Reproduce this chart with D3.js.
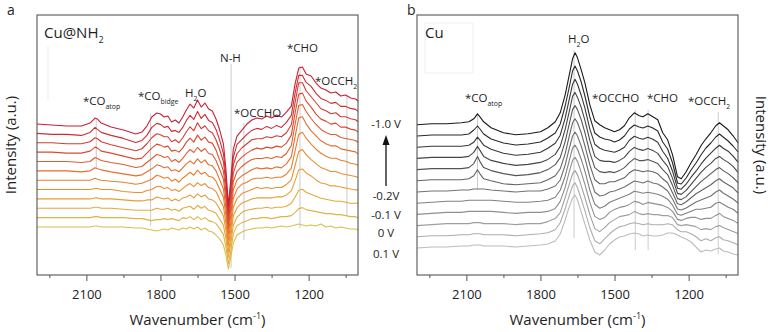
<!DOCTYPE html>
<html>
<head>
<meta charset="utf-8">
<script src="https://cdn.jsdelivr.net/npm/d3@7"></script>
<style>
  body { margin: 0; background: #fff; }
  svg { display: block; font-family: "Open Sans", sans-serif; }
</style>
</head>
<body>
<div id="chart"></div>
<script>
// wavenumber grids (cm-1)
const wnA = [2300, 2240, 2180, 2120, 2085, 2065, 2055, 2040, 2000, 1950, 1900, 1875, 1855, 1835, 1815, 1800,
  1785, 1770, 1755, 1740, 1725, 1710, 1695, 1680, 1665, 1650, 1635, 1620, 1605, 1590, 1575, 1560, 1545, 1535,
  1525, 1515, 1505, 1490, 1470, 1450, 1430, 1410, 1390, 1370, 1350, 1330, 1310, 1290, 1270, 1255, 1240, 1225,
  1210, 1190, 1170, 1150, 1130, 1110, 1090, 1070, 1050, 1030, 1010, 1000];

const wnB = [2300, 2240, 2180, 2120, 2090, 2070, 2055, 2045, 2030, 2000, 1950, 1900, 1850, 1800, 1770, 1740,
  1720, 1700, 1685, 1670, 1660, 1650, 1635, 1620, 1600, 1580, 1560, 1540, 1520, 1500, 1480, 1460, 1440, 1420,
  1400, 1385, 1365, 1345, 1325, 1305, 1285, 1265, 1245, 1230, 1210, 1190, 1170, 1150, 1130, 1110, 1090, 1075,
  1060, 1040, 1020, 1000];

// Cu@NH2 spectra, first = 0.1 V (bottom), last = -1.0 V (top)
const cuNH2 = [
  [0,0,0,0, 0,1,1,0,0, 0,-1,-1, -2,-3,-4,-3,-2,-3,-1,-2,-3,-1,-2,0,-2,0,-3,-1,-4,-5,-8, -12,-18,-28,-42,-30,-16,-8, -5,-3,-2,-1,-1,0,-1,0,1,0, 1,2,3,2,1, 2,1,3,0,1,-1,0,-1,-2,-2,-3],
  [0,0,0,0, 0,1,1,0,0, 0,-1,-1, -2,-3,-2,-2,-1,-2,-1,-2,-3,0,-1,1,-2,1,-2,0,-3,-4,-6, -11,-17,-29,-46,-33,-16,-8, -5,-3,-1,-1,0,0,-1,0,1,1, 2,5,9,10,8, 7,6,5,4,4,3,3,2,1,1,0],
  [0,0,0,0, 0,1,1,0,0, -1,-2,-2, -2,-2,0,-1,-1,0,-2,-1,-3,0,1,2,-1,3,0,2,-2,-3,-5, -11,-17,-30,-49,-35,-17,-9, -4,-2,-1,0,0,1,0,1,1,2, 5,11,18,19,16, 14,12,10,9,8,7,7,6,5,5,5],
  [0,0,0,0, 0,1,1,0,0, -1,-2,-2, -1,-1,2,1,0,1,-2,0,-2,1,2,4,1,5,2,4,0,-1,-4, -10,-17,-31,-53,-38,-17,-9, -4,-2,0,1,1,1,1,2,2,4, 8,18,29,30,26, 23,19,16,15,13,13,12,11,10,9,9],
  [0,0,0,0, 0,1,1,0,0, -2,-3,-3, -1,0,3,3,1,2,-1,0,-2,1,4,6,3,7,4,6,2,1,-2, -10,-17,-33,-56,-40,-18,-9, -4,-2,0,2,1,2,1,2,2,5, 10,24,38,40,35, 30,26,22,20,18,18,16,15,14,13,12],
  [0,0,0,0, 0,2,1,0,-1, -2,-4,-3, -1,1,5,4,2,3,-1,1,-2,2,5,8,5,10,6,8,4,3,-1, -9,-17,-35,-60,-42,-18,-9, -4,-2,1,2,2,3,2,3,3,6, 12,29,46,48,42, 36,31,27,24,22,22,20,19,17,16,15],
  [0,0,0,-1, 0,3,2,1,-1, -3,-5,-4, -1,2,6,5,3,4,0,1,-1,3,7,10,7,12,8,11,6,5,0, -9,-18,-37,-63,-44,-19,-9, -5,-2,1,3,2,3,2,4,3,7, 14,34,53,54,47, 40,35,30,27,25,25,22,21,20,19,17],
  [0,0,0,-1, 0,4,3,1,-1, -3,-6,-5, -1,3,7,6,4,5,0,2,-1,3,8,12,9,14,10,13,8,7,1, -8,-18,-38,-67,-46,-20,-10, -5,-1,2,3,3,4,3,5,4,8, 16,37,56,57,50, 43,37,32,29,27,27,24,23,22,21,19],
  [0,0,-1,-1, 1,5,4,1,-1, -4,-7,-6, -1,4,8,7,5,6,1,2,0,4,10,14,10,17,12,15,10,9,2, -8,-19,-40,-71,-48,-21,-10, -5,-1,2,4,3,5,4,6,5,9, 17,39,58,59,51, 45,38,33,31,28,29,25,25,23,22,20],
  [0,0,-1,-1, 1,5,4,1,-2, -5,-8,-6, -1,5,9,8,6,6,1,3,0,5,11,16,12,20,14,17,12,10,3, -7,-19,-41,-74,-50,-22,-11, -5,-1,3,4,4,6,5,7,6,10, 18,40,60,60,52, 46,40,34,32,29,30,26,26,24,23,21],
  [0,-1,-1,-2, 1,6,4,1,-2, -5,-9,-7, -2,6,10,9,6,7,2,3,1,6,13,18,14,22,15,19,13,11,4, -7,-20,-43,-78,-52,-24,-11, -6,-1,3,5,4,7,5,8,6,11, 18,40,58,58,51, 47,40,35,33,30,31,27,27,25,24,22],
  [0,-1,-2,-2, 1,6,5,1,-3, -6,-10,-8, -2,7,11,10,7,8,2,4,1,7,14,20,16,24,17,21,15,13,5, -6,-20,-45,-81,-55,-25,-12, -6,0,4,6,5,8,6,9,7,12, 18,40,56,57,50, 48,41,36,34,31,32,28,29,26,25,23]
];

// Cu spectra, first = 0.1 V (bottom), last = -1.0 V (top)
const cu = [
  [0,1,1,2, 2,3,3,3,2,2, 2,1,2,3,4,7,14, 28,40,50,53,48,36,24,8,-4, -7,-2,4,8,11,12,14,15,14,12,13,12,12,13,15, 15,13,11,9,6,1,-4,-2,-3, -1,0,-3,-4,-6,-7],
  [0,1,1,2, 2,3,3,3,2,2, 2,1,2,3,4,7,14, 28,40,51,54,49,38,26,9,-4, -7,-2,3,7,10,11,13,14,13,12,13,12,12,12,13, 12,7,5,5,3,0,-4,-2,-4, -1,0,-3,-4,-6,-8],
  [0,1,2,2, 2,3,3,3,2,2, 2,1,2,2,4,7,13, 28,40,52,55,51,40,28,11,-3, -6,-2,3,6,9,10,11,14,12,11,12,11,11,10,10, 8,1,0,1,0,-1,-4,-3,-4, -1,0,-2,-4,-6,-8],
  [0,1,2,2, 3,3,3,3,3,3, 2,1,2,2,3,6,13, 27,41,54,57,53,42,30,12,-2, -5,-3,2,5,7,8,10,13,12,10,12,11,10,9,7, 3,-5,-6,-4,-3,-3,-5,-4,-4, -1,1,-2,-4,-6,-9],
  [0,1,2,2, 3,3,3,3,3,3, 2,1,1,2,3,6,13, 27,41,55,58,54,44,32,13,-1, -5,-3,1,3,5,7,9,12,11,10,11,10,9,7,4, -2,-11,-12,-10,-8,-6,-6,-5,-4, 0,1,-1,-4,-6,-10],
  [0,1,1,2, 2,3,3,3,3,2, 1,0,1,1,3,6,12, 27,42,56,60,56,46,34,15,0, -4,-3,0,1,3,5,8,11,10,9,11,9,8,5,1, -7,-17,-18,-16,-13,-10,-8,-6,-4, 0,2,-1,-4,-7,-11],
  [0,1,1,1, 2,5,11,7,2,0, -3,-4,-3,-2,1,5,12, 27,43,58,62,58,48,35,16,1, -3,-3,-1,-1,1,3,8,11,10,9,10,9,7,2,-2, -12,-23,-24,-21,-17,-13,-10,-7,-4, 0,2,-1,-4,-7,-12],
  [0,1,1,1, 2,6,13,8,2,-1, -4,-6,-5,-3,0,5,12, 28,44,60,64,60,50,37,17,2, -2,-3,-2,-3,-1,2,7,11,9,9,10,8,6,0,-5, -16,-29,-30,-27,-22,-17,-12,-8,-4, 0,2,-1,-4,-8,-13],
  [0,1,1,1, 2,6,12,8,2,-2, -5,-7,-6,-4,-1,4,12, 29,45,62,66,61,51,38,18,2, -2,-3,-3,-4,-2,1,7,11,9,8,10,8,5,-2,-8, -20,-35,-36,-32,-26,-20,-14,-9,-5, 0,2,-1,-4,-8,-14],
  [0,1,1,1, 2,5,10,7,2,-2, -6,-8,-7,-5,-1,4,12, 29,46,63,68,63,52,39,18,3, -1,-3,-4,-5,-3,0,7,11,9,8,10,8,5,-4,-11, -24,-41,-42,-37,-30,-24,-17,-11,-6, -1,2,-1,-4,-9,-15],
  [0,1,1,1, 2,6,10,7,2,-3, -7,-9,-8,-6,-2,3,12, 30,47,65,70,65,54,40,19,3, -1,-3,-4,-6,-4,0,7,11,9,8,10,8,5,-6,-13, -27,-47,-48,-42,-34,-27,-19,-12,-7, -1,2,-1,-5,-10,-16],
  [0,1,1,2, 3,6,11,8,3,-3, -8,-10,-9,-7,-3,3,12, 30,48,66,72,67,55,42,20,4, 0,-3,-5,-7,-5,-1,7,12,9,8,11,8,5,-8,-15, -30,-52,-54,-47,-38,-30,-21,-14,-8, -1,2,-1,-5,-11,-18]
];

const xTicks = [2100, 1800, 1500, 1200];
const xMinor = [2250, 1950, 1650, 1350, 1050];
const potentials = ["-1.0 V", "-0.2V", "-0.1 V", "0 V", "0.1 V"];

// peak assignments: label parts and wavenumber of the guide line
const peaksA = [
  { parts: ["*CO", ["atop", "sub"]], wn: 2060 },
  { parts: ["*CO", ["bidge", "sub"]], wn: 1840 },
  { parts: ["H", ["2", "sub"], "O"], wn: null },
  { parts: ["N-H"], wn: 1514 },
  { parts: ["*OCCHO"], wn: 1462 },
  { parts: ["*CHO"], wn: 1235 },
  { parts: ["*OCCH", ["2", "sub"]], wn: 1045 }
];
const peaksB = [
  { parts: ["*CO", ["atop", "sub"]], wn: 2055 },
  { parts: ["H", ["2", "sub"], "O"], wn: 1664 },
  { parts: ["*OCCHO"], wn: 1416 },
  { parts: ["*CHO"], wn: 1364 },
  { parts: ["*OCCH", ["2", "sub"]], wn: 1080 }
];

const W = 779, H = 332;
const plotTop = 15, plotBottom = 275;

const svg = d3.select("#chart").append("svg").attr("width", W).attr("height", H);

const y = d3.scaleLinear().domain([0, 260]).range([plotBottom, plotTop]);

function richText(g, parts, x, yy, size) {
  const t = g.append("text").attr("x", x).attr("y", yy)
    .attr("font-size", size).attr("fill", "#1e1e1e");
  let shift = 0;
  parts.forEach(p => {
    const str = Array.isArray(p) ? p[0] : p;
    const kind = Array.isArray(p) ? p[1] : null;
    const target = kind === "sub" ? size * 0.32 : kind === "sup" ? -size * 0.38 : 0;
    const s = t.append("tspan").text(str).attr("dy", target - shift);
    if (kind) s.attr("font-size", size * 0.6);
    shift = target;
  });
  return t;
}

function panel(cfg) {
  const g = svg.append("g");
  const x = d3.scaleLinear().domain([2300, 1000]).range([cfg.x0, cfg.x1]);

  // faint guide lines under the peaks
  cfg.guides.forEach(d => {
    g.append("line")
      .attr("x1", x(d.wn)).attr("x2", x(d.wn))
      .attr("y1", d.y1).attr("y2", d.y2)
      .attr("stroke", "#b4b4b4").attr("stroke-width", 0.7);
  });

  const line = d3.line()
    .x((d, j) => x(cfg.wn[j]))
    .curve(d3.curveLinear);

  cfg.data.forEach((series, i) => {
    const base = cfg.base0 + cfg.step * i;
    g.append("path")
      .datum(series)
      .attr("d", line.y(v => y(base + v)))
      .attr("fill", "none")
      .attr("stroke", cfg.color(i / (cfg.data.length - 1)))
      .attr("stroke-width", 1.1)
      .attr("stroke-linejoin", "round");
  });

  g.append("rect")
    .attr("x", cfg.x0).attr("y", plotTop)
    .attr("width", cfg.x1 - cfg.x0).attr("height", plotBottom - plotTop)
    .attr("fill", "none").attr("stroke", "#555").attr("stroke-width", 1.1);

  const axis = g.append("g").attr("transform", `translate(0,${plotBottom})`)
    .call(d3.axisBottom(x).tickValues(xTicks).tickSize(6).tickPadding(9).tickFormat(d3.format("d")));
  axis.select(".domain").remove();
  axis.selectAll("line").attr("stroke", "#555");
  axis.selectAll("text").attr("font-size", 13).attr("fill", "#222")
    .attr("font-family", "Open Sans, sans-serif");

  const minor = g.append("g").attr("transform", `translate(0,${plotBottom})`)
    .call(d3.axisBottom(x).tickValues(xMinor).tickSize(3).tickFormat(""));
  minor.select(".domain").remove();
  minor.selectAll("line").attr("stroke", "#555");

  richText(g, ["Wavenumber (cm", ["-1", "sup"], ")"], (cfg.x0 + cfg.x1) / 2, 325, 15)
    .attr("text-anchor", "middle");

  return { g, x };
}

// panel a
const pa = panel({
  x0: 37, x1: 358, wn: wnA, data: cuNH2, base0: 48, step: 9.36,
  color: d3.interpolateRgbBasis(["#dcbd4e", "#e8a232", "#e97a2a", "#d9442f", "#c81f3a"]),
  guides: [
    { wn: 2060, y1: 119, y2: 168 },
    { wn: 1840, y1: 114, y2: 226 },
    { wn: 1514, y1: 64, y2: 268 },
    { wn: 1462, y1: 123, y2: 240 },
    { wn: 1235, y1: 66, y2: 228 },
    { wn: 1045, y1: 96, y2: 216 }
  ]
});

// panel b
const pb = panel({
  x0: 417, x1: 738, wn: wnB, data: cu, base0: 27, step: 11.2,
  color: d3.interpolateRgb("#bcbcbc", "#1a1a1a"),
  guides: [
    { wn: 2055, y1: 114, y2: 190 },
    { wn: 1664, y1: 50, y2: 238 },
    { wn: 1416, y1: 110, y2: 250 },
    { wn: 1364, y1: 110, y2: 250 },
    { wn: 1080, y1: 112, y2: 254 }
  ]
});

// faint leftover boxes from the source figure
svg.append("line").attr("x1", 48).attr("x2", 48).attr("y1", 46).attr("y2", 100)
  .attr("stroke", "#e6e6e6").attr("stroke-width", 0.8);
svg.append("rect").attr("x", 425).attr("y", 23).attr("width", 48).attr("height", 50)
  .attr("fill", "none").attr("stroke", "#ebebeb").attr("stroke-width", 0.8);

// peak labels
const labPosA = [[83, 105], [138, 100], [185, 97], [220, 62], [234, 117], [287, 52], [315, 85]];
peaksA.forEach((p, k) => richText(pa.g, p.parts, labPosA[k][0], labPosA[k][1], 11.5));
const labPosB = [[465, 102], [568, 43], [592, 102], [647, 102], [688, 105]];
peaksB.forEach((p, k) => richText(pb.g, p.parts, labPosB[k][0], labPosB[k][1], 11.5));

// sample names
richText(svg, ["Cu@NH", ["2", "sub"]], 44, 38, 15);
richText(svg, ["Cu"], 425, 38, 15);

// panel letters
svg.append("text").attr("x", 7).attr("y", 15).attr("font-size", 14).attr("fill", "#1e1e1e").text("a");
svg.append("text").attr("x", 407).attr("y", 15).attr("font-size", 14).attr("fill", "#1e1e1e").text("b");

// y labels
svg.append("text").attr("transform", "translate(16,145) rotate(-90)")
  .attr("text-anchor", "middle").attr("font-size", 15).attr("fill", "#1e1e1e")
  .text("Intensity (a.u.)");
svg.append("text").attr("transform", "translate(756,145) rotate(90)")
  .attr("text-anchor", "middle").attr("font-size", 15).attr("fill", "#1e1e1e")
  .text("Intensity (a.u.)");

// potential legend between panels
const potY = [128, 200, 219, 237, 258];
potentials.forEach((t, k) => {
  svg.append("text").attr("x", 386).attr("y", potY[k]).attr("text-anchor", "middle")
    .attr("font-size", 11.5).attr("fill", "#1e1e1e").text(t);
});
svg.append("line").attr("x1", 386).attr("x2", 386).attr("y1", 186).attr("y2", 142)
  .attr("stroke", "#111").attr("stroke-width", 1.3);
svg.append("path").attr("d", "M386,135 L382.5,145 L389.5,145 Z").attr("fill", "#111");
</script>
</body>
</html>
